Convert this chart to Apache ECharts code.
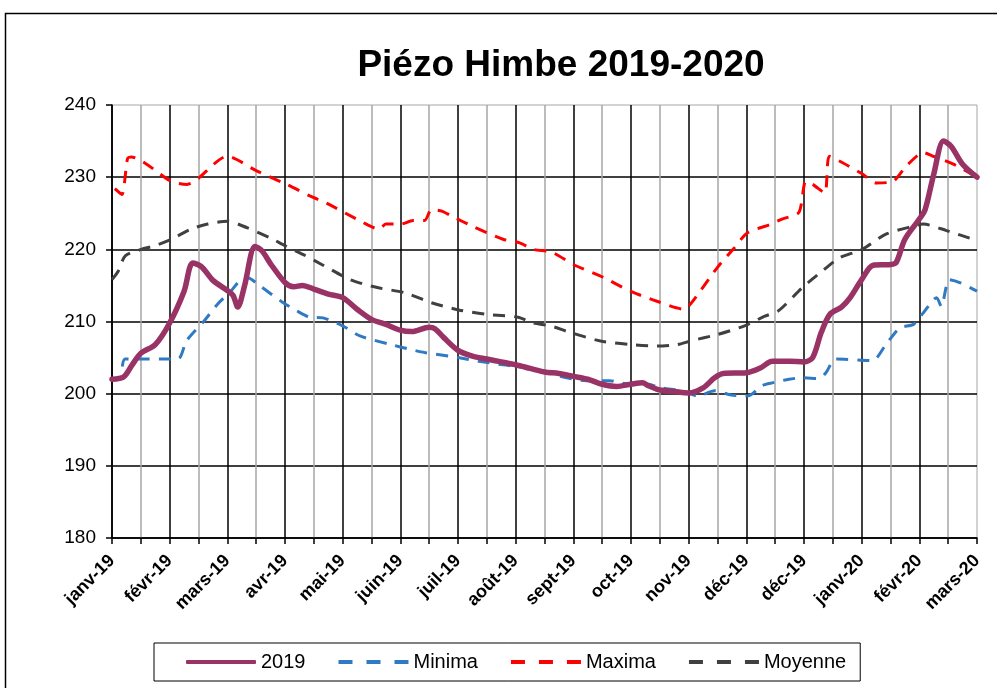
<!DOCTYPE html>
<html>
<head>
<meta charset="utf-8">
<script src="https://cdn.jsdelivr.net/npm/echarts@6/dist/echarts.min.js"></script>
<style>
html,body{margin:0;padding:0;background:#fff;}
#chart{width:997px;height:688px;}
</style>
</head>
<body>
<div id="chart"></div>
<script>
// Tick labels of the x axis (one per major gridline)
const tickLabels = ['janv-19','févr-19','mars-19','avr-19','mai-19','juin-19','juil-19','août-19','sept-19','oct-19','nov-19','déc-19','déc-19','janv-20','févr-20','mars-20'];
const seriesNames = ['2019','Minima','Maxima','Moyenne'];

// [position along axis (in tick units), level]
const data2019 = [[0,202.0],[0.2,202.3],[0.35,204.0],[0.5,205.6],[0.75,206.8],[1.0,209.8],[1.25,214.2],[1.4,218.1],[1.55,217.6],[1.75,215.7],[2.0,214.3],[2.1,213.6],[2.18,212.0],[2.3,215.0],[2.48,220.4],[2.6,219.8],[2.75,218.0],[3.0,215.4],[3.15,214.8],[3.3,215.0],[3.5,214.5],[3.75,213.8],[4.0,213.3],[4.25,211.7],[4.5,210.3],[4.75,209.6],[5.0,208.8],[5.2,208.6],[5.5,209.2],[5.6,209.0],[5.75,207.8],[6.0,206.0],[6.25,205.2],[6.5,204.8],[6.75,204.4],[7.0,204.0],[7.25,203.5],[7.5,203.0],[7.75,202.8],[8.0,202.4],[8.25,202.0],[8.5,201.3],[8.75,201.0],[9.0,201.3],[9.2,201.5],[9.3,201.1],[9.5,200.5],[9.75,200.3],[10.0,200.1],[10.25,200.8],[10.45,202.2],[10.6,202.8],[11.0,202.9],[11.25,203.6],[11.45,204.5],[11.75,204.5],[12.0,204.4],[12.15,205.0],[12.3,208.5],[12.45,211.0],[12.65,212.0],[12.8,213.3],[13.0,215.8],[13.2,217.8],[13.5,217.9],[13.6,218.2],[13.75,221.4],[14.0,224.2],[14.1,225.5],[14.25,230.4],[14.42,235.0],[14.55,234.3],[14.75,231.8],[15.0,230.0]];

const dataMinima = [[0,202.0],[0.14,202.0],[0.23,204.8],[1.14,204.8],[1.29,207.3],[1.6,210.1],[1.83,212.4],[2.06,214.2],[2.23,215.8],[2.34,216.1],[2.57,214.9],[2.97,212.6],[3.2,211.5],[3.43,210.6],[3.66,210.5],[4.0,209.4],[4.3,208.0],[4.84,206.8],[5.19,206.1],[5.42,205.7],[6.0,205.0],[6.36,204.5],[6.78,204.0],[7.19,203.6],[7.54,202.9],[7.83,202.3],[8.23,201.8],[8.63,201.8],[8.9,201.4],[9.19,201.5],[9.53,200.8],[9.87,200.4],[10.16,199.7],[10.45,200.4],[10.74,199.8],[11.03,199.7],[11.27,201.1],[11.45,201.5],[11.74,202.0],[11.97,202.2],[12.26,202.1],[12.38,202.9],[12.55,204.8],[13.19,204.6],[13.42,206.8],[13.66,209.1],[13.9,209.6],[14.07,211.2],[14.3,213.3],[14.38,212.1],[14.52,215.8],[14.7,215.4],[15.0,214.2]];

const dataMaxima = [[0.05,228.4],[0.17,227.6],[0.27,232.6],[0.33,232.8],[1.03,229.4],[1.3,229.0],[2.0,232.9],[2.5,230.9],[3.03,229.0],[3.43,227.4],[3.72,226.4],[4.36,223.7],[4.63,222.8],[4.75,223.5],[5.01,223.5],[5.22,224.0],[5.42,224.0],[5.54,225.5],[5.72,225.3],[5.89,224.6],[6.25,223.2],[6.78,221.4],[7.07,220.9],[7.3,220.0],[7.63,219.6],[8.0,217.9],[8.52,216.1],[8.99,214.2],[9.45,212.8],[9.92,211.7],[10.03,212.4],[10.5,217.5],[10.79,220.2],[11.02,222.3],[11.4,223.4],[11.62,224.2],[11.91,225.1],[12.03,229.4],[12.15,229.0],[12.36,227.8],[12.44,232.9],[12.67,232.0],[13.02,230.4],[13.25,229.2],[13.54,229.4],[13.77,231.5],[14.07,233.4],[14.24,232.9],[14.59,231.8],[15.0,230.0]];

const dataMoyenne = [[0,215.8],[0.11,217.0],[0.23,219.1],[0.51,220.0],[0.74,220.5],[1.03,221.4],[1.37,222.8],[1.66,223.5],[2.0,223.9],[2.34,223.0],[2.74,221.6],[3.0,220.5],[3.31,219.3],[3.66,217.8],[4.13,215.8],[4.6,214.7],[5.07,214.0],[5.54,212.6],[6.01,211.6],[6.48,211.0],[7.04,210.6],[7.3,209.8],[7.6,209.4],[7.94,208.5],[8.47,207.3],[8.99,206.8],[9.45,206.6],[9.8,206.8],[10.03,207.3],[10.5,208.2],[10.97,209.4],[11.31,210.7],[11.56,211.5],[11.97,214.7],[12.32,217.0],[12.61,218.8],[13.01,220.0],[13.42,222.1],[13.89,223.2],[14.07,223.5],[14.47,222.6],[15.0,221.2]];

const FONT = '"Liberation Sans", Arial, sans-serif';
const DASH_ICON = 'path://M0,0h14v4h-14zM28,0h14v4h-14zM56,0h14v4h-14z';
const chart = echarts.init(document.getElementById('chart'), null, {renderer: 'canvas'});

function dashed(name, data, color) {
  return {
    name: name, type: 'line', data: data, symbol: 'none', showSymbol: false,
    smooth: 0.25, z: 3,
    lineStyle: {color: color, width: 3, type: [12, 9]},
    itemStyle: {color: color}
  };
}

chart.setOption({
  backgroundColor: '#fff',
  animation: false,
  title: {
    text: 'Piézo Himbe 2019-2020',
    left: 556, top: 42, textAlign: 'center',
    textStyle: {fontFamily: FONT, fontWeight: 'bold', fontSize: 37, color: '#000'}
  },
  graphic: [{
    type: 'rect', shape: {x: 5.5, y: 13.5, width: 1100, height: 800},
    style: {fill: 'none', stroke: '#000', lineWidth: 1.5}, silent: true, z: -1
  }],
  grid: {
    left: 112, right: 20, top: 105, bottom: 150,
    show: true, borderColor: '#a6a6a6', borderWidth: 1
  },
  legend: {
    left: 154, top: 643,
    padding: [9, 14, 9, 32],
    itemGap: 33, itemWidth: 70, itemHeight: 4,
    borderColor: '#000', borderWidth: 1,
    textStyle: {fontFamily: FONT, fontSize: 20, color: '#000'},
    data: [
      {name: '2019', icon: 'roundRect', itemStyle: {color: '#993366'}},
      {name: 'Minima', icon: DASH_ICON},
      {name: 'Maxima', icon: DASH_ICON},
      {name: 'Moyenne', icon: DASH_ICON}
    ]
  },
  xAxis: {
    type: 'value', min: 0, max: 15, interval: 0.5,
    axisLine: {show: true, onZero: false, lineStyle: {color: '#000', width: 1.5}},
    axisTick: {show: true, length: 6, inside: false, lineStyle: {color: '#000', width: 1.5}},
    axisLabel: {
      rotate: 45, margin: 20, fontFamily: FONT, fontSize: 18, fontWeight: 'bold', color: '#000',
      formatter: function (v) {
        return Number.isInteger(v) ? tickLabels[v] : '';
      }
    },
    splitLine: {show: true, showMaxLine: false, lineStyle: {color: ['#000', '#a6a6a6'], width: 1.5}}
  },
  yAxis: {
    type: 'value', min: 180, max: 240, interval: 10,
    axisLine: {show: true, lineStyle: {color: '#000', width: 1.5}},
    axisTick: {show: true, length: 6, lineStyle: {color: '#000', width: 1.5}},
    axisLabel: {margin: 16, fontFamily: FONT, fontSize: 19, color: '#000'},
    splitLine: {show: true, showMaxLine: false, lineStyle: {color: '#000', width: 1.5}}
  },
  series: [
    {
      name: '2019', type: 'line', data: data2019, symbol: 'none', showSymbol: false,
      smooth: 0.3, z: 4,
      lineStyle: {color: '#993366', width: 5.5, cap: 'round', join: 'round'},
      itemStyle: {color: '#993366'}
    },
    dashed('Minima', dataMinima, '#2f7ac3'),
    dashed('Maxima', dataMaxima, '#ff0000'),
    dashed('Moyenne', dataMoyenne, '#404040')
  ]
});
</script>
</body>
</html>
